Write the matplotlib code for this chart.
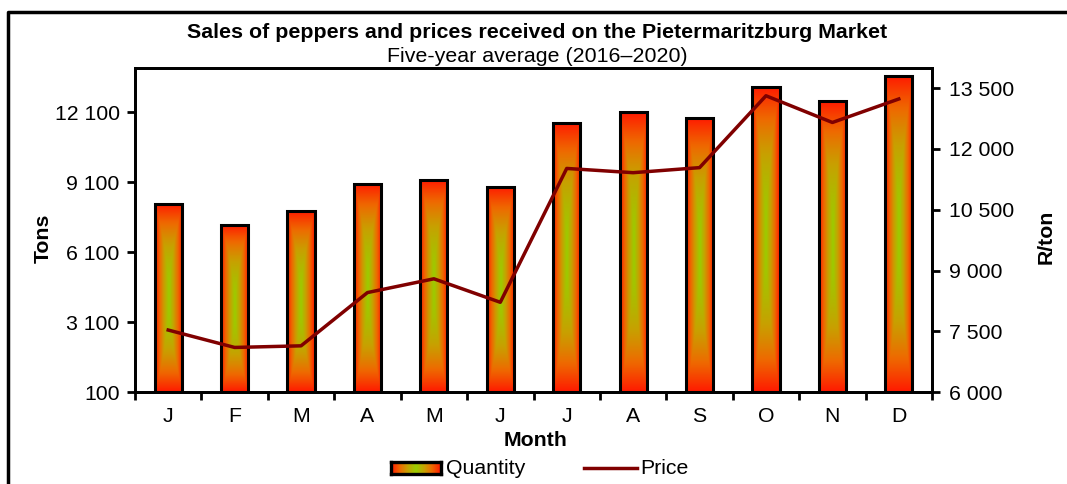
import numpy as np
import matplotlib
matplotlib.use("Agg")
import matplotlib.pyplot as plt
from matplotlib.colors import LinearSegmentedColormap
from matplotlib.lines import Line2D

plt.rcParams['font.family'] = ['Liberation Sans', 'DejaVu Sans']

months = ["J", "F", "M", "A", "M", "J", "J", "A", "S", "O", "N", "D"]
quantity = [8180, 7280, 7870, 9040, 9210, 8900, 11660, 12110, 11860, 13190, 12590, 13660]
price = [7530, 7100, 7140, 8455, 8795, 8215, 11520, 11415, 11540, 13315, 12655, 13235]
left_ticks = [100, 3100, 6100, 9100, 12100]
left_labels = ["100", "3 100", "6 100", "9 100", "12 100"]
right_ticks = [6000, 7500, 9000, 10500, 12000, 13500]
right_labels = ["6 000", "7 500", "9 000", "10 500", "12 000", "13 500"]

cmap = LinearSegmentedColormap.from_list(
    "pep", [(0.0, "#9acd00"), (0.35, "#c8a000"), (0.65, "#ee6a00"), (1.0, "#ff1a00")])

W, H = 1067, 484
fig = plt.figure(figsize=(W / 100, H / 100), dpi=100)

def fx(px):
    return px / W

def fy(py):
    return 1 - py / H

FS = 15.3

ax = fig.add_axes([fx(135), fy(392), fx(932 - 135), fy(68) - fy(392)])
ax2 = ax.twinx()
ax.set_zorder(1)
ax2.set_zorder(2)
ax.patch.set_visible(False)

x = np.arange(len(months))
bw = 0.41
bars = ax.bar(x, [q - 100 for q in quantity], bottom=100, width=bw,
              facecolor="none", edgecolor="black", linewidth=2.2, zorder=3)

ny, nx = 200, 60
yy, xx = np.mgrid[-1:1:ny * 1j, -1:1:nx * 1j]
grad = np.maximum(np.abs(xx), np.abs(yy) ** 1.8)
for rect in bars:
    x0 = rect.get_x()
    y0 = rect.get_y()
    im = ax.imshow(grad, cmap=cmap, vmin=0, vmax=1, aspect="auto",
                   extent=(x0, x0 + rect.get_width(), y0, y0 + rect.get_height()),
                   origin="lower", zorder=2, interpolation="bilinear")
    im.set_clip_path(rect)

ax.set_xlim(-0.5, len(months) - 0.5)
ax.set_ylim(100, 14000)
ax.set_yticks(left_ticks)
ax.set_yticklabels(left_labels)
ax.set_xticks(x)
ax.set_xticklabels(months)
ax.set_xticks(np.arange(-0.5, len(months), 1.0), minor=True)
ax.tick_params(axis="x", which="major", length=0, labelsize=FS, pad=11)
ax.tick_params(axis="x", which="minor", length=6, width=2, direction="out")
ax.tick_params(axis="y", length=6, width=2, direction="out", labelsize=FS, pad=5)

ax2.plot(x, price, color="#800000", linewidth=2.5, zorder=5)
ax2.set_ylim(6000, 14000)
ax2.set_yticks(right_ticks)
ax2.set_yticklabels(right_labels)
ax2.tick_params(axis="y", length=6, width=2, direction="out", labelsize=FS, pad=6)

for a in (ax, ax2):
    for s in a.spines.values():
        s.set_linewidth(2)

ax.set_ylabel("Tons", fontsize=FS, fontweight="bold")
ax.yaxis.set_label_coords((53 - 135) / 797, (392 - 238) / 324)
ax2.set_ylabel("R/ton", fontsize=FS, fontweight="bold")
ax2.yaxis.set_label_coords((1037 - 135) / 797, (392 - 237) / 324)
fig.text(fx(536), fy(440), "Month", fontsize=FS, fontweight="bold", ha="center", va="center")

fig.text(fx(537), fy(32), "Sales of peppers and prices received on the Pietermaritzburg Market",
         fontsize=15.4, fontweight="bold", ha="center", va="center")
fig.text(fx(537), fy(57), "Five-year average (2016\u20132020)", fontsize=15.4,
         ha="center", va="center")

# legend
lax = fig.add_axes([fx(391), fy(474), fx(50), fy(462) - fy(474)])
lyy, lxx = np.mgrid[-1:1:20j, -1:1:60j]
lax.imshow(np.abs(lxx), cmap=cmap, vmin=0, vmax=1, aspect="auto", extent=(0, 1, 0, 1))
lax.set_xticks([])
lax.set_yticks([])
for s in lax.spines.values():
    s.set_linewidth(2.4)
fig.text(fx(446), fy(468), "Quantity", fontsize=FS, ha="left", va="center")
fig.add_artist(Line2D([fx(584), fx(637)], [fy(468), fy(468)], color="#800000", linewidth=2.5))
fig.text(fx(640), fy(468), "Price", fontsize=FS, ha="left", va="center")

# outer border
fig.add_artist(Line2D([fx(8), fx(8), fx(1067)], [fy(484), fy(12), fy(12)],
                      color="black", linewidth=2.5))

fig.savefig("out.png", dpi=100)
